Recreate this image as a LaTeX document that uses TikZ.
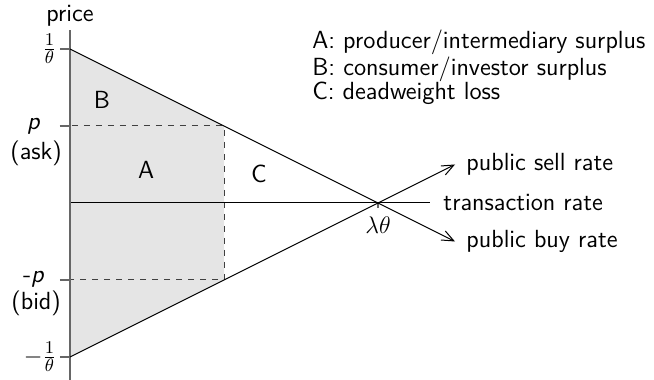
\documentclass[tikz,border=0pt]{standalone}
\usepackage{amsmath,amssymb}
\usepackage{xcolor}
\usepackage{tikz}
\usetikzlibrary{positioning,calc,arrows.meta,backgrounds}
\renewcommand{\familydefault}{\sfdefault}

\begin{document}
\begin{tikzpicture}[
  x=77pt, y=77pt,
  font=\fontsize{12.4}{12}\selectfont,
  axis/.style={black!60, line width=0.8pt},
  tickmark/.style={black!60, line width=0.6pt},
  guide/.style={dashed, black!75, line width=0.5pt},
  rate/.style={black, line width=0.5pt},
  arr/.style={rate, -{Straight Barb[length=6pt, width=5pt]}},
  lbl/.style={inner sep=1.5pt},
  region/.style={inner sep=0pt}
]
\useasboundingbox (-0.4545,-1.143) rectangle (3.792,1.318);
% Key points
\coordinate (top) at (0,1);
\coordinate (bot) at (0,-1);
\coordinate (ask) at (1,0.5);
\coordinate (bid) at (1,-0.5);
\coordinate (eq) at (2,0);
\coordinate (sellend) at (2.5,0.25);
\coordinate (buyend) at (2.5,-0.25);
\coordinate (txend) at (2.338,0);
\coordinate (yaxt) at (0,1.123);
\coordinate (yaxb) at (0,-1.15);
% Surplus area
\fill[black!10] (top) -- (ask) -- (bid) -- (bot) -- cycle;
% Price levels
\draw[guide] (-0.065,0.5) -- (ask) -- (bid) -- (-0.065,-0.5);
% Ticks on the price axis
\foreach \y in {1,0.5,-0.5,-1}
  \draw[tickmark] (-0.065,\y) -- (0,\y);
\draw[tickmark] (eq) -- ++(0,-0.035);
% Axes and rates
\draw[rate] (0,0) -- (txend);
\draw[axis] (yaxb) -- (yaxt);
\draw[arr] (bot) -- (sellend);
\draw[arr] (top) -- (buyend);
% Axis labels
\node[lbl, above] (price) at (yaxt) {price};
\node[lbl, left] (one) at (-0.065,1) {$\frac{1}{\theta}$};
\node[lbl, left] (mone) at (-0.065,-1) {$-\frac{1}{\theta}$};
\node[inner sep=0pt] (plbl) at (-0.235,0.5) {\textit{p}};
\node[inner sep=0pt] (asklbl) at (-0.22,0.325) {(ask)};
\node[inner sep=0pt] (mplbl) at (-0.235,-0.494) {-\textit{p}};
\node[inner sep=0pt] (bidlbl) at (-0.22,-0.65) {(bid)};
\node[inner sep=0pt] (lt) at (2,-0.143) {$\lambda\theta$};
% Rate labels
\node[lbl, right=4pt of sellend] (sell) {public sell rate};
\node[lbl, right=5pt of txend] (tx) {transaction rate};
\node[lbl, right=4pt of buyend] (buy) {public buy rate};
% Regions
\node[region] (B) at (0.208,0.67) {B};
\node[region] (A) at (0.494,0.214) {A};
\node[region] (C) at (1.227,0.188) {C};
% Legend
\node[align=left, anchor=west, inner sep=0pt] (legend) at (1.571,0.883)
  {A: producer/intermediary surplus\\ B: consumer/investor surplus\\ C: deadweight loss};
\end{tikzpicture}
\end{document}
